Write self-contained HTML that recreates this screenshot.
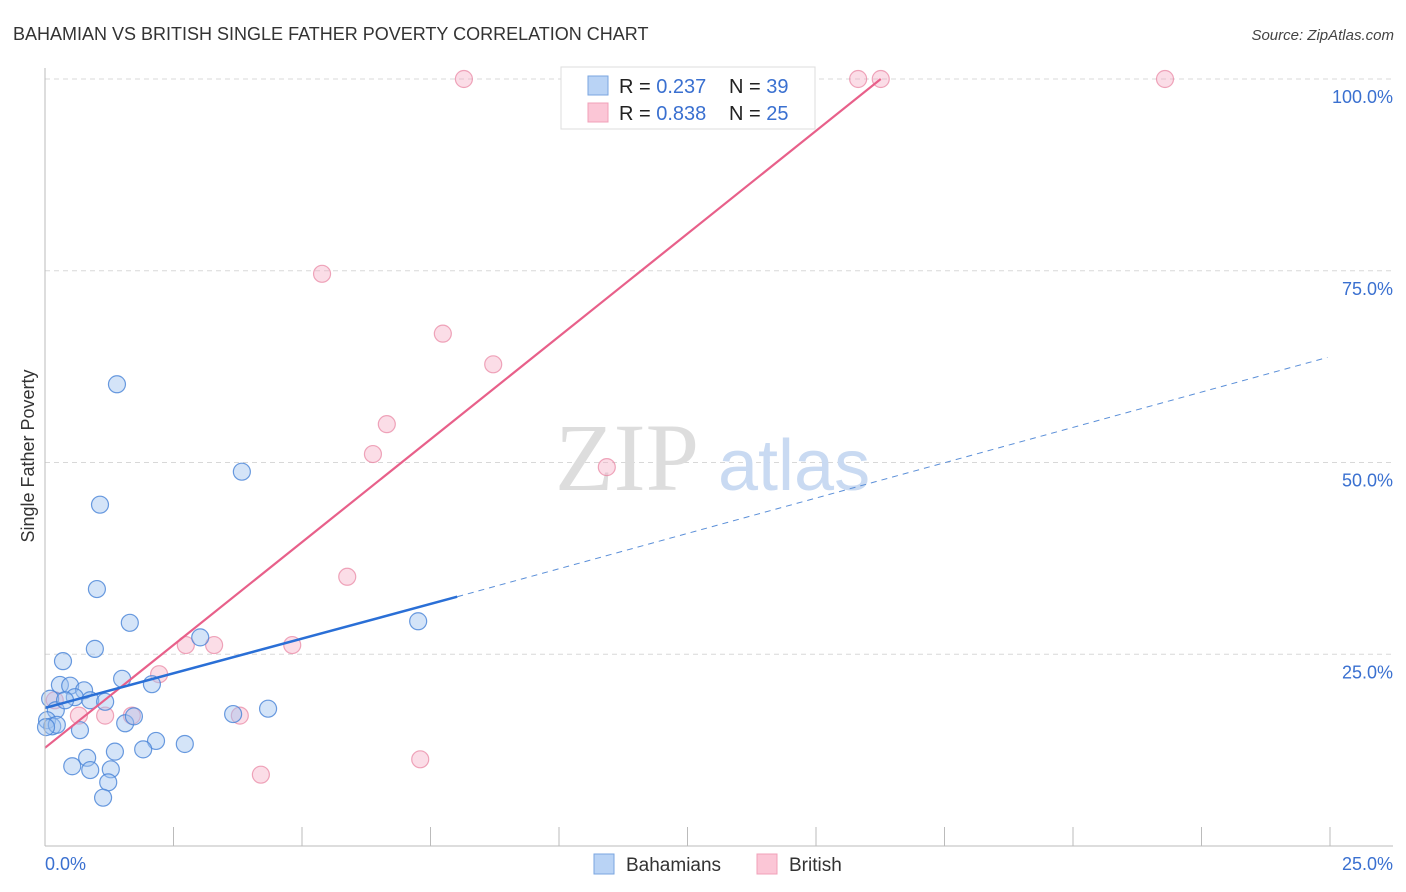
<!DOCTYPE html>
<html><head><meta charset="utf-8">
<style>
body{margin:0;background:#fff;font-family:"Liberation Sans",sans-serif;}
#wrap{position:relative;width:1406px;height:892px;overflow:hidden;}
</style></head>
<body><div id="wrap">
<svg id="svg" width="1406" height="892" xmlns="http://www.w3.org/2000/svg">
<text x="13" y="40" font-size="18" fill="#333">BAHAMIAN VS BRITISH SINGLE FATHER POVERTY CORRELATION CHART</text>
<text x="1394" y="40" font-size="15" fill="#444" font-style="italic" text-anchor="end">Source: ZipAtlas.com</text>
<text x="34" y="456" font-size="18" fill="#333" text-anchor="middle" transform="rotate(-90 34 456)">Single Father Poverty</text>
<g id="grid"></g>
<text x="555" y="490" font-size="96" fill="#ddd" font-family="Liberation Serif,serif">ZIP</text>
<text x="718" y="490" font-size="72" fill="#c9daf2">atlas</text>
<g id="marks"></g>
<line x1="45" y1="68" x2="45" y2="846" stroke="#bbb"/>
<line x1="45" y1="846" x2="1393" y2="846" stroke="#bbb"/>
<text x="45" y="870" font-size="18" fill="#3a70d0">0.0%</text>
<text x="1393" y="870" font-size="18" fill="#3a70d0" text-anchor="end">25.0%</text>
<g>
<rect x="561" y="67" width="254" height="62" fill="#fff" stroke="#ddd"/>
<rect x="588" y="76" width="20" height="19" fill="#b9d3f5" stroke="#7aa6e0"/>
<rect x="588" y="103" width="20" height="19" fill="#fbc6d6" stroke="#f0a0b8"/>
<text x="619" y="93" font-size="20" fill="#222">R = <tspan fill="#3a70d0">0.237</tspan></text>
<text x="729" y="93" font-size="20" fill="#222">N = <tspan fill="#3a70d0">39</tspan></text>
<text x="619" y="120" font-size="20" fill="#222">R = <tspan fill="#3a70d0">0.838</tspan></text>
<text x="729" y="120" font-size="20" fill="#222">N = <tspan fill="#3a70d0">25</tspan></text>
</g>
<g>
<rect x="594" y="854" width="20" height="20" fill="#b9d3f5" stroke="#7aa6e0"/>
<text x="626" y="871" font-size="19" fill="#333">Bahamians</text>
<rect x="757" y="854" width="20" height="20" fill="#fbc6d6" stroke="#f0a0b8"/>
<text x="789" y="871" font-size="19" fill="#333">British</text>
</g>
</svg>
</div>
<script>
const yTicks=[25,50,75,100];
const yTickLabels=["25.0%","50.0%","75.0%","100.0%"];
const xTicks=[0,2.5,5,7.5,10,12.5,15,17.5,20,22.5,25];
const blueX=[1.40,3.83,1.07,1.01,1.65,3.02,7.26,0.97,0.35,1.50,2.08,0.29,0.49,0.76,0.58,0.88,1.17,0.10,0.21,0.04,0.14,0.68,1.56,1.73,3.66,4.34,2.16,2.72,1.36,0.82,0.53,0.88,1.28,1.23,1.13,1.91,0.23,0.02,0.39];
const blueY=[60.2,48.8,44.5,33.5,29.1,27.2,29.3,25.7,24.1,21.8,21.1,21.0,20.9,20.3,19.4,19.0,18.8,19.2,17.7,16.4,15.6,15.1,16.0,16.9,17.2,17.9,13.7,13.3,12.3,11.5,10.4,9.9,10.0,8.3,6.3,12.6,15.8,15.5,19.0];
const pinkX=[8.15,10.21,13.33,14.30,15.82,16.26,21.79,5.39,7.74,8.72,6.65,6.38,10.93,5.88,2.74,3.29,4.81,2.22,1.69,3.79,0.66,1.17,0.19,4.20,7.30];
const pinkY=[100,100,100,100,100,100,100,74.6,66.8,62.8,55.0,51.1,49.4,35.1,26.2,26.2,26.2,22.4,17.0,17.0,17.0,17.0,19.0,9.3,11.3];
const blueTrendX=[0,8.02,24.95];
const blueTrendY=[18.0,32.5,63.7];
const pinkTrendX=[0,16.26];
const pinkTrendY=[12.8,100];
const NS="http://www.w3.org/2000/svg";
const sx=v=>45+v/25*1285;
const sy=v=>846-v/100*767;
const grid=document.getElementById('grid'),marks=document.getElementById('marks');
function mk(tag,attrs,parent){const e=document.createElementNS(NS,tag);for(const k in attrs)e.setAttribute(k,attrs[k]);parent.appendChild(e);return e;}
yTicks.forEach((t,i)=>{
 const l=mk('line',{x1:45,x2:1393,y1:sy(t),y2:sy(t),stroke:'#d8d8d8','stroke-dasharray':'5,4'},grid);
 
 
 const tx=mk('text',{x:1393,y:sy(t)+24,'font-size':18,fill:'#3a70d0','text-anchor':'end'},grid);
 tx.textContent=yTickLabels[i];
 
 
});
xTicks.forEach(t=>{
 const l=mk('line',{x1:sx(t),x2:sx(t),y1:827,y2:846,stroke:'#bbb'},grid);
 
 
});
pinkX.forEach((x,i)=>{
 const c=mk('circle',{cx:sx(x),cy:sy(pinkY[i]),r:8.5,fill:'rgba(246,170,195,0.4)',stroke:'rgba(232,130,160,0.7)','stroke-width':1.2},marks);
 
 
});
blueX.forEach((x,i)=>{
 const c=mk('circle',{cx:sx(x),cy:sy(blueY[i]),r:8.5,fill:'rgba(160,195,240,0.45)',stroke:'rgba(70,130,215,0.8)','stroke-width':1.2},marks);
 
 
});
const pt=mk('line',{x1:sx(pinkTrendX[0]),y1:sy(pinkTrendY[0]),x2:sx(pinkTrendX[1]),y2:sy(pinkTrendY[1]),stroke:'#e8608a','stroke-width':2.2},marks);


const bt=mk('line',{x1:sx(blueTrendX[0]),y1:sy(blueTrendY[0]),x2:sx(blueTrendX[1]),y2:sy(blueTrendY[1]),stroke:'#2a6fd6','stroke-width':2.5},marks);


const bd=mk('line',{x1:sx(blueTrendX[1]),y1:sy(blueTrendY[1]),x2:sx(blueTrendX[2]),y2:sy(blueTrendY[2]),stroke:'#5b8fd8','stroke-width':1,'stroke-dasharray':'6,5'},marks);


</script>
</body></html>
